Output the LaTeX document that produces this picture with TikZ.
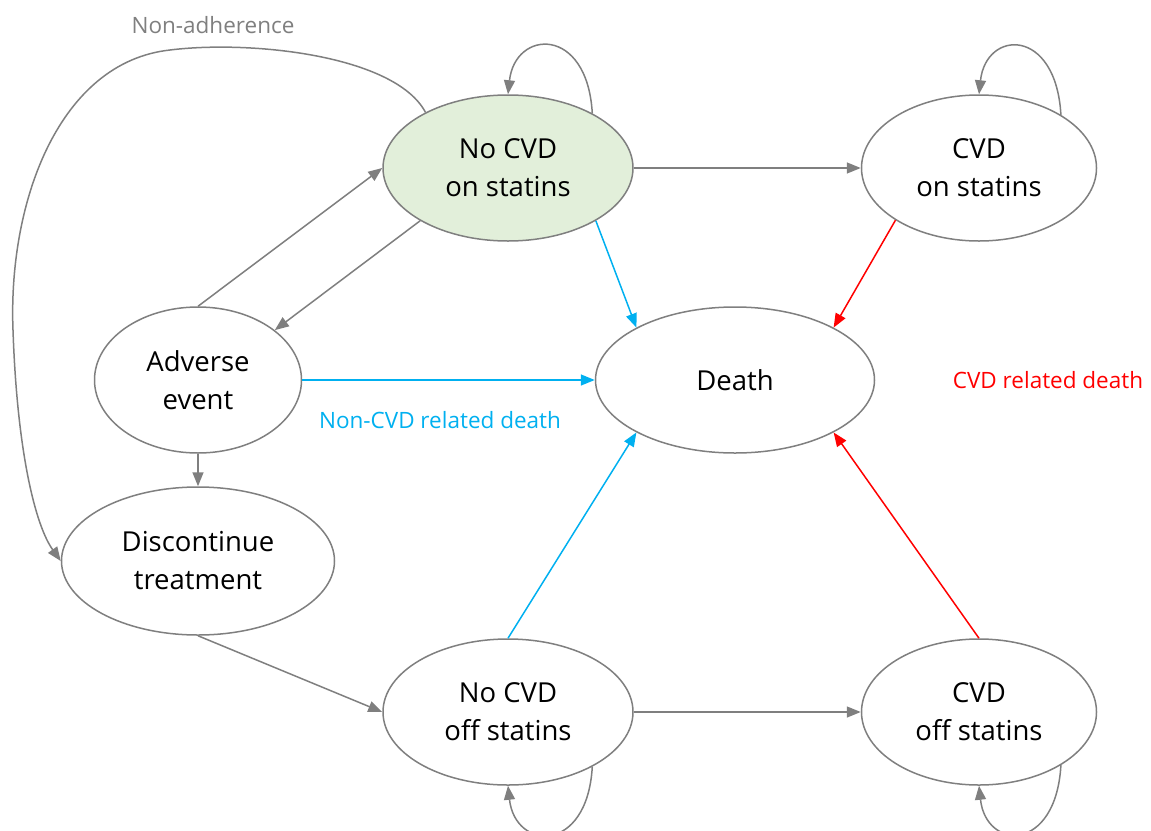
\documentclass[tikz,border=0pt]{standalone}
\usepackage{fontspec}
\setmainfont{Open Sans}
\usetikzlibrary{shapes.geometric,arrows.meta}
\definecolor{stategreen}{RGB}{226,239,218}
\definecolor{linegray}{RGB}{127,127,127}
\definecolor{deathblue}{RGB}{0,176,240}
\definecolor{deathred}{RGB}{255,0,0}

\begin{document}
\begin{tikzpicture}[x=1pt,y=-1pt,
  state/.style={ellipse,draw=linegray,line width=1.5pt,inner sep=0pt,
    align=center,font=\fontsize{27.5}{38}\selectfont},
  arr/.style={linegray,line width=1.5pt,-{Triangle[length=14pt,width=11pt]}},
  lbl/.style={font=\fontsize{22.5}{26}\selectfont}]
\useasboundingbox (0,0) rectangle (1151,830);

% states
\node[state,fill=stategreen,minimum width=250pt,minimum height=146pt] (nocvdon) at (508,168) {No CVD\\on statins};
\node[state,minimum width=235pt,minimum height=146pt] (cvdon) at (979,168) {CVD\\on statins};
\node[state,minimum width=279pt,minimum height=146pt] (death) at (735,380) {Death};
\node[state,minimum width=207pt,minimum height=146pt] (adverse) at (198,380) {Adverse\\event};
\node[state,minimum width=273pt,minimum height=148pt] (discont) at (198,561) {Discontinue\\treatment};
\node[state,minimum width=250pt,minimum height=146pt] (nocvdoff) at (508,712) {No CVD\\off statins};
\node[state,minimum width=235pt,minimum height=146pt] (cvdoff) at (979,712) {CVD\\off statins};

% labels
\node[lbl,text=linegray] (nonadh) at (213,25) {Non-adherence};
\node[lbl,text=deathblue] (noncvddeath) at (440,420) {Non-CVD related death};
\node[lbl,text=deathred] (cvddeath) at (1048,380) {CVD related death};

% gray transitions
\draw[arr] (nocvdon) -- (cvdon);
\draw[arr] (nocvdoff) -- (cvdoff);
\draw[arr] (adverse.north) -- (nocvdon.west);
\draw[arr] (nocvdon.211) -- (adverse.33);
\draw[arr] (adverse) -- (discont);
\draw[arr] (discont.south) -- (nocvdoff.west);
\draw[arr] (nocvdon.146) .. controls (395,55) and (250,40) .. (170,50)
  .. controls (60,62) and (8,200) .. (13,330)
  .. controls (17,450) and (35,525) .. (discont.west);

% self loops
\draw[arr] (nocvdon.33) .. controls +(-5,-88) and +(7,-65) .. (nocvdon.north);
\draw[arr] (cvdon.33) .. controls +(-5,-88) and +(7,-65) .. (cvdon.north);
\draw[arr] (nocvdoff.-33) .. controls +(-5,88) and +(7,65) .. (nocvdoff.south);
\draw[arr] (cvdoff.-33) .. controls +(-5,88) and +(7,65) .. (cvdoff.south);

% deaths
\draw[arr,deathblue] (nocvdon.-31) -- (death.152);
\draw[arr,deathblue] (adverse) -- (death);
\draw[arr,deathblue] (nocvdoff.north) -- (death.208);
\draw[arr,deathred] (cvdon.212) -- (death.28);
\draw[arr,deathred] (cvdoff.north) -- (death.332);
\end{tikzpicture}
\end{document}
